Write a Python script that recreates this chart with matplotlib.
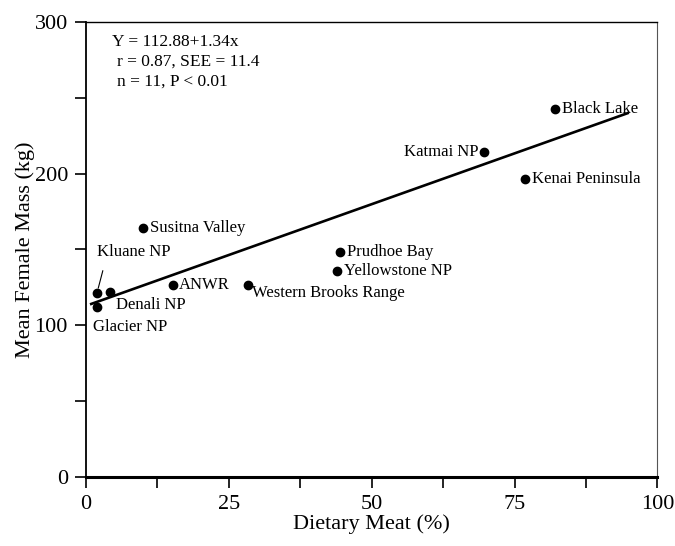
import matplotlib.pyplot as plt
from matplotlib.ticker import MultipleLocator
import numpy as np

# dietary meat (%) and mean female mass (kg) per population
sites = ["Black Lake", "Katmai NP", "Kenai Peninsula", "Prudhoe Bay", "Yellowstone NP",
         "Western Brooks Range", "ANWR", "Susitna Valley", "Kluane NP", "Denali NP", "Glacier NP"]
meat = [82.1, 69.7, 76.8, 44.4, 43.9, 28.4, 15.2, 9.9, 1.9, 4.2, 1.9]
mass = [242.9, 214.3, 196.4, 148.6, 136.0, 126.8, 126.8, 164.3, 121.0, 121.7, 112.0]

# label offsets in points (dx, dy) and alignment
offsets = {
    "Black Lake": (5, 0, "left"),
    "Katmai NP": (-4, 0, "right"),
    "Kenai Peninsula": (5, 0, "left"),
    "Prudhoe Bay": (5, 0, "left"),
    "Yellowstone NP": (5, 0, "left"),
    "Western Brooks Range": (3, -6, "left"),
    "ANWR": (4, 0, "left"),
    "Susitna Valley": (5, 0, "left"),
    "Denali NP": (4, -9, "left"),
    "Glacier NP": (-3, -14, "left"),
}

intercept, slope = 112.88, 1.34
fit_x = [0.7, 95]

plt.rcParams['font.family'] = ['Liberation Serif', 'DejaVu Serif']

fig = plt.figure(figsize=(6.75, 5.46), dpi=100)
ax = fig.add_axes([0.1274, 0.1264, 0.8466, 0.8333])

fx = np.array(fit_x)
ax.plot(fx, intercept + slope * fx, color="black", lw=1.9, solid_capstyle="butt")
ax.plot(meat, mass, "o", color="black", ms=6, ls="none")

for name, x, y in zip(sites, meat, mass):
    if name == "Kluane NP":
        ax.annotate(name, (x, y), xytext=(0, 30), textcoords="offset points",
                    ha="left", va="center", fontsize=12,
                    arrowprops=dict(arrowstyle="-", lw=0.8, color="black",
                                    shrinkA=6, shrinkB=4, relpos=(0.12, 0)))
        continue
    dx, dy, ha = offsets[name]
    ax.annotate(name, (x, y), xytext=(dx, dy), textcoords="offset points",
                ha=ha, va="center", fontsize=12)

ax.text(0.045, 0.957, "Y = 112.88+1.34x", transform=ax.transAxes, fontsize=12.5, va="center")
ax.text(0.055, 0.913, "r = 0.87, SEE = 11.4", transform=ax.transAxes, fontsize=12.5, va="center")
ax.text(0.055, 0.870, "n = 11, P < 0.01", transform=ax.transAxes, fontsize=12.5, va="center")

ax.set_xlim(0, 100)
ax.set_ylim(0, 300)
ax.xaxis.set_major_locator(MultipleLocator(25))
ax.xaxis.set_minor_locator(MultipleLocator(12.5))
ax.yaxis.set_major_locator(MultipleLocator(100))
ax.yaxis.set_minor_locator(MultipleLocator(50))
ax.tick_params(which="both", direction="out", length=8, width=1.2, labelsize=16, pad=5)

ax.spines["left"].set_linewidth(1.3)
ax.spines["bottom"].set_linewidth(2.2)
ax.spines["top"].set_linewidth(1.0)
ax.spines["right"].set_linewidth(0.8)
ax.spines["right"].set_color("#555555")

ax.set_xlabel("Dietary Meat (%)", fontsize=16, labelpad=0)
ax.set_ylabel("Mean Female Mass (kg)", fontsize=16, labelpad=0)

fig.savefig("out.png", dpi=100)
